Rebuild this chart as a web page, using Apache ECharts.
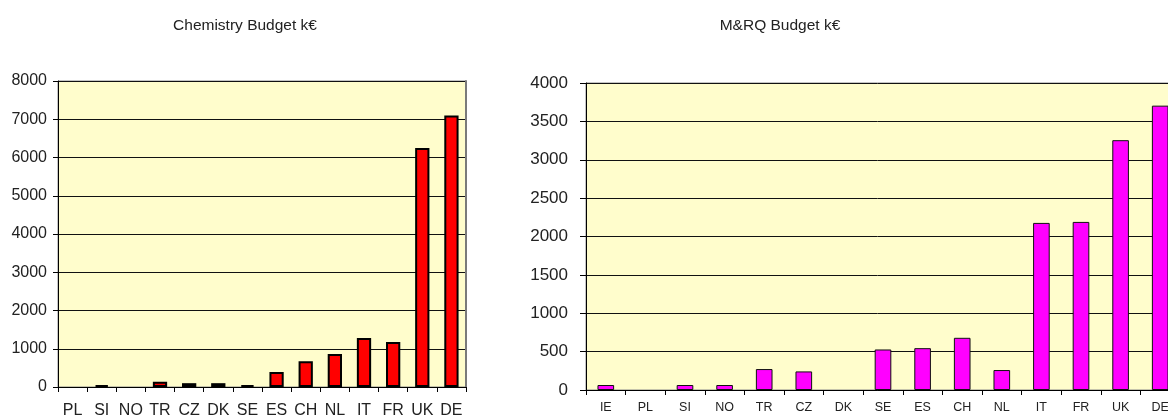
<!DOCTYPE html>
<html>
<head>
<meta charset="utf-8">
<script src="https://cdn.jsdelivr.net/npm/echarts@6/dist/echarts.min.js"></script>
<style>
  html, body { margin: 0; padding: 0; background: #fff; }
  #chart { width: 1168px; height: 419px; }
</style>
</head>
<body>
<div id="chart"></div>
<script>
// Chemistry chart data
const chemCategories = ['PL', 'SI', 'NO', 'TR', 'CZ', 'DK', 'SE', 'ES', 'CH', 'NL', 'IT', 'FR', 'UK', 'DE'];
const chemValues = [0, 50, 0, 140, 100, 100, 50, 390, 670, 860, 1280, 1175, 6250, 7100];
const chemTicks = [0, 1000, 2000, 3000, 4000, 5000, 6000, 7000, 8000];

// M&RQ chart data
const mrqCategories = ['IE', 'PL', 'SI', 'NO', 'TR', 'CZ', 'DK', 'SE', 'ES', 'CH', 'NL', 'IT', 'FR', 'UK', 'DE'];
const mrqValues = [65, 0, 65, 65, 273, 242, 0, 528, 545, 680, 260, 2177, 2190, 3255, 3705];
const mrqTicks = [0, 500, 1000, 1500, 2000, 2500, 3000, 3500, 4000];

const chart = echarts.init(document.getElementById('chart'), null, { renderer: 'canvas' });

const sans = '"Liberation Sans", Arial, Helvetica, sans-serif';
const plain = v => String(v);
// zero-valued bars are not drawn in the reference (no outline)
const hideZero = arr => arr.map(v => (v === 0 ? '-' : v));

chart.setOption({
  animation: false,
  backgroundColor: '#ffffff',
  title: [
    { text: 'Chemistry Budget k€', left: 240, top: 13, textAlign: 'center',
      textStyle: { fontFamily: sans, fontSize: 15.5, fontWeight: 'normal', color: '#222' } },
    { text: 'M&RQ Budget k€', left: 775, top: 13, textAlign: 'center',
      textStyle: { fontFamily: sans, fontSize: 15.5, fontWeight: 'normal', color: '#222' } }
  ],
  grid: [
    { left: 58, top: 81, width: 408, height: 306, show: true, backgroundColor: '#FFFDCC',
      borderColor: '#8a8a8a', borderWidth: 1, containLabel: false, outerBoundsMode: 'none' },
    { left: 586, top: 83, width: 594, height: 307, show: true, backgroundColor: '#FFFDCC',
      borderColor: '#8a8a8a', borderWidth: 1, containLabel: false, outerBoundsMode: 'none' }
  ],
  xAxis: [
    { type: 'category', gridIndex: 0, data: chemCategories,
      axisLine: { lineStyle: { color: '#000', width: 1 } },
      axisTick: { show: true, length: 5, lineStyle: { color: '#000' } },
      axisLabel: { interval: 0, margin: 16, fontFamily: sans, fontSize: 16, color: '#222' } },
    { type: 'category', gridIndex: 1, data: mrqCategories,
      axisLine: { lineStyle: { color: '#000', width: 1 } },
      axisTick: { show: true, length: 5, lineStyle: { color: '#000' } },
      axisLabel: { interval: 0, margin: 11, fontFamily: sans, fontSize: 12.5, color: '#222' } }
  ],
  yAxis: [
    { type: 'value', gridIndex: 0, min: chemTicks[0], max: chemTicks[chemTicks.length - 1], interval: chemTicks[1] - chemTicks[0],
      axisLine: { show: true, lineStyle: { color: '#000', width: 1 } },
      axisTick: { show: true, length: 5, lineStyle: { color: '#000' } },
      axisLabel: { margin: 11, fontFamily: sans, fontSize: 16, color: '#222', formatter: plain },
      splitLine: { show: true, lineStyle: { color: '#111', width: 1 } } },
    { type: 'value', gridIndex: 1, min: mrqTicks[0], max: mrqTicks[mrqTicks.length - 1], interval: mrqTicks[1] - mrqTicks[0],
      axisLine: { show: true, lineStyle: { color: '#000', width: 1 } },
      axisTick: { show: true, length: 6, lineStyle: { color: '#000' } },
      axisLabel: { margin: 18, fontFamily: sans, fontSize: 17, color: '#222', formatter: plain },
      splitLine: { show: true, lineStyle: { color: '#111', width: 1 } } },
    { type: 'value', gridIndex: 0, position: 'right', min: 0, max: 1,
      axisLine: { show: true, lineStyle: { color: '#7a7a7a', width: 2 } },
      axisTick: { show: false }, axisLabel: { show: false }, splitLine: { show: false } }
  ],
  series: [
    { type: 'bar', xAxisIndex: 0, yAxisIndex: 0, data: hideZero(chemValues), barWidth: '49%',
      itemStyle: { color: '#FF0000', borderColor: '#000', borderWidth: 2 } },
    { type: 'bar', xAxisIndex: 1, yAxisIndex: 1, data: hideZero(mrqValues), barWidth: '42%',
      itemStyle: { color: '#FF00FF', borderColor: '#111', borderWidth: 1 } }
  ]
});
</script>
</body>
</html>
